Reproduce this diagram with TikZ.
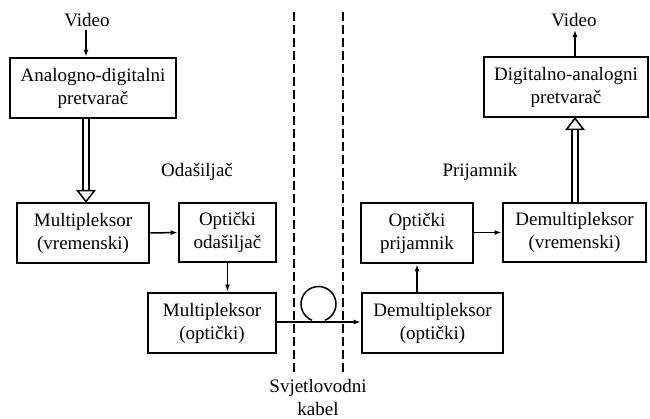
\documentclass[tikz,border=0pt]{standalone}
\usepackage{fontspec}
\setmainfont{Liberation Serif}
\usetikzlibrary{arrows.meta,calc}
\begin{document}
\begin{tikzpicture}[x=1pt,y=-1pt,
  box/.style={draw,line width=2.8pt,inner sep=0pt,align=center,font=\fontsize{19}{23}\selectfont},
  lbl/.style={inner sep=0pt,align=center,font=\fontsize{19}{23}\selectfont},
  conn/.style={line width=1.5pt,-{Latex[length=7pt,width=5pt]}},
  plain/.style={line width=1.5pt},
  cable/.style={line width=1.5pt,dash pattern=on 9pt off 4pt}]
\useasboundingbox (0,0) rectangle (650,418);
% boxes
\node[box,minimum width=166pt,minimum height=60pt] (adc) at (93,88) {Analogno-digitalni\\pretvarač};
\node[box,minimum width=132pt,minimum height=60pt] (muxv) at (83,233) {Multipleksor\\(vremenski)};
\node[box,minimum width=97pt,minimum height=59pt] (optod) at (227.5,232.5) {Optički\\odašiljač};
\node[box,minimum width=128pt,minimum height=60pt] (muxo) at (212,323) {Multipleksor\\(optički)};
\node[box,minimum width=112pt,minimum height=60pt] (optpr) at (417,233) {Optički\\prijamnik};
\node[box,minimum width=143pt,minimum height=59pt] (demuxv) at (574.5,232.5) {Demultipleksor\\(vremenski)};
\node[box,minimum width=141pt,minimum height=60pt] (demuxo) at (432.5,323) {Demultipleksor\\(optički)};
\node[box,minimum width=164pt,minimum height=60pt] (dac) at (566,87) {Digitalno-analogni\\pretvarač};
% labels
\node[lbl] (vin) at (87,20) {Video};
\node[lbl] (vout) at (574,20) {Video};
\node[lbl] (odas) at (197,172) {Odašiljač};
\node[lbl] (prij) at (480,172) {Prijamnik};
\node[lbl] (kab) at (318,397) {Svjetlovodni\\kabel};
% helper coordinates
\coordinate (xl) at (86,0);
\coordinate (xr) at (575,0);
\coordinate (fy) at (0,322);
\coordinate (cab1) at (294,12);
\coordinate (cab1e) at (294,375);
\coordinate (cab2) at (343,12);
\coordinate (cab2e) at (343,375);
\coordinate (loopc) at (318.5,304);
% cable dashed lines
\draw[cable] (cab1) -- (cab1e);
\draw[cable] (cab2) -- (cab2e);
% video arrows
\draw[conn] ($(xl|-vin.south)+(0,3)$) -- (xl|-adc.north);
\draw[conn] (xr|-dac.north) -- ($(xr|-vout.south)+(0,3)$);
% hollow double arrows
\draw[plain] ($(xl|-adc.south)+(-3,0)$) -- ($(xl|-muxv.north)+(-3,-11)$);
\draw[plain] ($(xl|-adc.south)+(3,0)$) -- ($(xl|-muxv.north)+(3,-11)$);
\draw[plain,line join=miter] ($(xl|-muxv.north)+(-8.5,-11)$) -- ($(xl|-muxv.north)+(8.5,-11)$) -- (xl|-muxv.north) -- cycle;
\draw[plain] ($(xr|-demuxv.north)+(-3,0)$) -- ($(xr|-dac.south)+(-3,11)$);
\draw[plain] ($(xr|-demuxv.north)+(3,0)$) -- ($(xr|-dac.south)+(3,11)$);
\draw[plain,line join=miter] ($(xr|-dac.south)+(-8.5,11)$) -- ($(xr|-dac.south)+(8.5,11)$) -- (xr|-dac.south) -- cycle;
% signal arrows
\draw[conn] (muxv.east) -- (optod.west);
\draw[conn] (optod.south) -- (optod.south|-muxo.north);
\draw[conn] (demuxo.north-|optpr.south) -- (optpr.south);
\draw[conn] (optpr.east|-demuxv.west) -- (demuxv.west);
% fibre
\draw[conn] (muxo.east|-fy) -- (demuxo.west|-fy);
\draw[plain] ($(loopc)+(112:17.5)$) arc[start angle=112,end angle=428,radius=17.5];
\end{tikzpicture}
\end{document}
